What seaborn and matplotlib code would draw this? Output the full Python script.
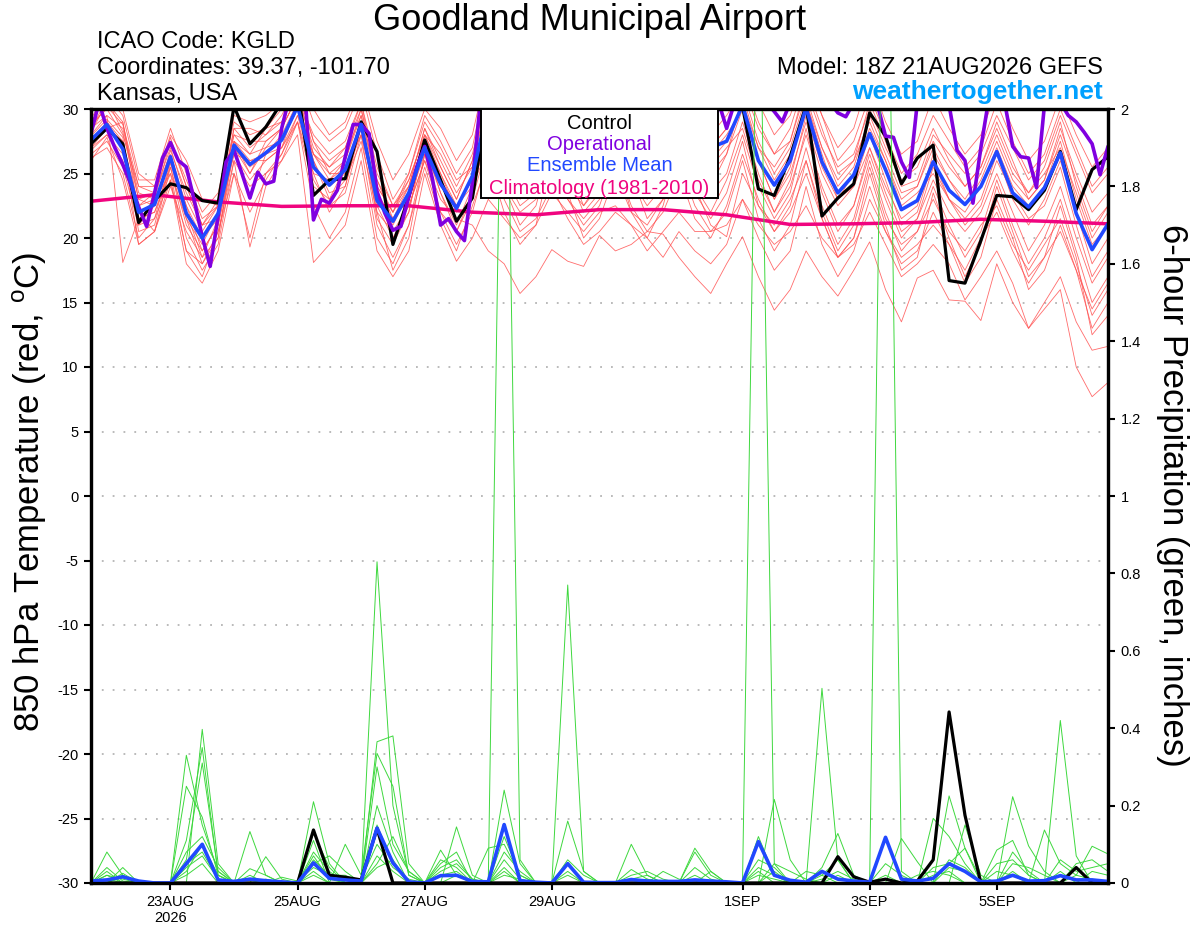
import numpy as np
import pandas as pd
import matplotlib
matplotlib.use("Agg")
import matplotlib.pyplot as plt
import matplotlib.patches as mpatches
import seaborn as sns

sns.set_style("ticks")
plt.rcParams["font.family"] = ["Liberation Sans", "DejaVu Sans"]
plt.rcParams["axes.unicode_minus"] = False
plt.rcParams["mathtext.fontset"] = "custom"
plt.rcParams["mathtext.rm"] = "Liberation Sans"
for key in ["text.color", "axes.labelcolor", "xtick.color", "ytick.color", "axes.edgecolor"]:
    plt.rcParams[key] = "black"

# ---------------- data ----------------
START = "2026-08-21 18:00"
END = "2026-09-06 18:00"

# Ensemble mean 850 hPa temperature (6-hourly)
mean_temp = [27.6,
             28.8, 26.9, 22.0, 22.6, 26.3, 21.9, 20.0, 21.9, 27.2,
             25.7, 26.6, 27.6, 30.2, 25.5, 24.1, 25.3, 28.8, 22.9, 21.3,
             23.5, 27.0, 24.2, 22.3, 24.8, 30.2, 28.0, 26.5, 27.0, 29.0,
             28.5, 27.0, 27.5, 29.0, 28.0, 26.5, 27.5, 29.5, 28.5, 27.0,
             27.5, 30.3, 26.0, 24.1, 26.0, 30.1, 25.9, 23.5, 24.9, 28.1,
             25.3, 22.2, 22.9, 25.9, 23.7, 22.6, 24.0, 26.7, 23.5, 22.4,
             23.9, 26.6, 21.9, 19.1, 21.1]

# Control run temperature (6-hourly)
ctrl_temp = [27.3,
             28.5, 27.3, 21.2, 22.9, 24.2, 23.9, 22.9, 22.7, 30.2,
             27.3, 28.6, 30.5, 31.5, 23.3, 24.5, 24.6, 29.0, 26.7, 19.5,
             23.2, 27.6, 24.5, 21.3, 23.1, 30.8, 31.5, 30.9, 31.8, 32.2,
             31.0, 31.6, 32.4, 31.2, 30.8, 31.9, 32.5, 31.3, 30.6, 31.1,
             30.6, 30.2, 23.8, 23.3, 26.3, 30.3, 21.7, 23.1, 24.2, 29.7,
             27.9, 24.2, 26.2, 27.2, 16.7, 16.5, 19.8, 23.3, 23.2, 22.2,
             23.7, 26.7, 22.2, 25.3, 26.3]

# Operational run temperature (3-hourly)
oper_temp = [28.1, 30.5, 28.5, 27.0, 25.7, 24.2, 22.4, 20.9, 23.5, 26.2,
             27.4, 26.0, 25.5, 22.9, 20.1, 17.8, 21.7, 25.9, 26.8, 25.0,
             23.1, 25.1, 24.2, 24.4, 28.5, 31.0, 31.5, 30.5, 21.4, 23.0,
             22.7, 23.7, 26.3, 28.8, 28.8, 28.1, 23.6, 21.9, 20.6, 20.9,
             23.2, 25.5, 27.1, 24.5, 21.0, 21.5, 20.5, 19.8, 24.3, 30.5,
             31.5, 32.0, 31.0, 31.5, 32.5, 32.0, 31.0, 31.5, 32.0, 33.0,
             32.5, 31.5, 31.0, 32.0, 32.5, 31.5, 31.0, 31.5, 32.0, 31.5,
             31.0, 30.5, 31.5, 32.0, 31.5, 31.0, 30.5, 31.0, 31.5, 30.5,
             28.5, 30.5, 31.0, 31.5, 31.0, 30.5, 29.8, 29.0, 30.5, 31.0,
             31.5, 31.5, 31.0, 30.5, 29.7, 29.4, 30.5, 31.5, 31.5, 30.3,
             27.9, 27.8, 25.9, 24.7, 30.5, 31.5, 32.0, 31.5, 30.3, 26.8,
             26.0, 22.7, 27.0, 30.8, 31.5, 30.5, 27.1, 26.3, 26.2, 23.9,
             30.3, 31.5, 30.5, 29.5, 29.0, 28.2, 27.3, 24.9, 27.1]

# Climatology 1981-2010 (daily)
clim_temp = [22.85, 23.35, 22.8, 22.45, 22.5, 22.5, 22.0, 21.8, 22.2,
             22.2, 21.8, 21.05, 21.1, 21.2, 21.45, 21.3, 21.1]

# Ensemble members temperature (6-hourly)
t_m01 = [27.0, 28.0, 26.0, 21.5, 22.0, 25.5, 21.0, 19.0, 21.0, 26.5, 24.5, 26.0, 27.0,
         29.0, 24.0, 23.0, 24.5, 27.5, 22.0, 20.5, 22.5, 26.0, 23.0, 21.5, 21.0,
         19.0, 18.0, 15.7, 17.0, 19.1, 18.2, 17.8, 20.2, 19.0, 19.5, 20.5, 20.3,
         18.5, 17.0, 15.7, 18.0, 20.1, 17.0, 14.4, 16.0, 19.0, 17.0, 15.5, 17.5,
         19.7, 16.0, 13.5, 16.9, 17.5, 15.2, 15.1, 13.6, 18.0, 15.0, 13.0, 14.5,
         16.0, 10.0, 7.7, 8.8]
t_m02 = [26.2, 27.0, 25.0, 20.0, 21.5, 24.5, 18.0, 16.5, 19.0, 25.0, 20.0, 25.0, 26.0,
         28.0, 18.1, 19.5, 21.0, 26.0, 19.0, 17.0, 19.0, 25.0, 21.0, 18.2, 20.0,
         23.0, 21.5, 20.0, 21.0, 23.5, 22.0, 20.5, 22.0, 22.5, 21.0, 19.0, 20.5,
         22.0, 20.5, 20.5, 21.0, 23.0, 21.0, 19.5, 20.5, 22.5, 20.0, 18.5, 19.5,
         22.0, 19.5, 17.0, 18.0, 19.5, 18.0, 15.2, 17.0, 19.0, 16.5, 13.0, 15.0,
         17.0, 13.5, 11.3, 11.6]
t_m03 = [28.5, 29.5, 28.5, 23.5, 23.0, 27.5, 24.0, 21.0, 22.5, 28.5, 27.0, 28.0, 29.0,
         31.5, 27.5, 26.0, 27.0, 30.0, 25.0, 22.5, 24.0, 28.5, 26.0, 23.5, 25.5,
         31.0, 29.0, 26.5, 27.0, 30.5, 28.5, 26.0, 27.5, 31.0, 29.0, 27.0, 28.0,
         31.5, 29.0, 27.0, 28.5, 32.0, 28.5, 26.5, 27.5, 31.5, 28.0, 25.5, 26.5,
         30.0, 27.0, 24.5, 25.5, 28.5, 26.0, 24.0, 25.5, 29.0, 26.0, 23.0, 24.5,
         28.0, 24.5, 21.0, 22.5]
t_m04 = [27.8, 28.5, 27.5, 21.0, 21.5, 26.0, 22.0, 18.5, 20.0, 27.5, 26.0, 26.5, 28.0,
         30.5, 26.0, 23.5, 24.0, 29.0, 21.5, 19.5, 22.0, 27.5, 23.5, 21.0, 24.0,
         28.0, 24.0, 21.0, 22.5, 27.0, 23.0, 21.5, 23.0, 26.5, 22.0, 20.0, 22.5,
         27.0, 23.5, 21.5, 23.5, 27.5, 22.5, 20.5, 22.0, 25.0, 21.5, 18.5, 20.0,
         24.0, 20.5, 18.0, 19.0, 22.0, 19.5, 16.5, 18.5, 23.0, 20.0, 16.0, 17.5,
         21.0, 17.5, 13.0, 15.0]
t_m05 = [28.2, 30.5, 29.0, 23.0, 23.5, 27.0, 23.0, 20.5, 22.5, 27.0, 25.0, 27.5, 28.5,
         31.0, 27.0, 25.5, 26.5, 29.5, 24.0, 22.0, 24.5, 28.0, 25.5, 23.0, 26.0,
         32.0, 30.5, 27.0, 28.0, 32.5, 31.0, 28.5, 30.0, 33.0, 31.0, 28.5, 30.5,
         32.0, 30.0, 28.0, 29.5, 31.5, 27.5, 25.0, 27.0, 31.0, 27.0, 24.0, 25.5,
         29.5, 26.5, 23.5, 24.0, 27.0, 24.5, 23.0, 25.0, 28.0, 25.0, 23.5, 25.5,
         29.0, 24.0, 20.5, 22.5]
t_m06 = [26.8, 28.0, 26.5, 22.5, 23.0, 25.0, 21.5, 19.5, 22.0, 26.5, 26.0, 26.0, 27.0,
         29.5, 25.0, 24.5, 25.5, 28.0, 23.5, 21.5, 23.0, 26.5, 24.5, 22.5, 24.5,
         29.0, 27.0, 24.0, 25.0, 28.0, 25.0, 22.0, 23.5, 27.5, 24.5, 22.5, 24.0,
         28.0, 25.5, 23.5, 25.0, 29.0, 25.0, 22.0, 24.0, 28.0, 24.0, 21.0, 22.5,
         27.0, 23.5, 20.5, 21.5, 24.5, 22.0, 20.5, 22.0, 25.0, 22.0, 19.0, 21.0,
         24.0, 20.0, 16.5, 18.5]
t_m07 = [29.0, 31.0, 29.5, 24.5, 24.5, 28.5, 25.0, 22.0, 23.5, 29.0, 28.0, 28.5, 30.0,
         32.5, 29.0, 27.5, 28.5, 31.5, 26.5, 23.0, 25.0, 29.5, 27.5, 25.0, 27.0,
         33.0, 32.0, 29.0, 30.0, 34.0, 32.0, 30.0, 31.5, 34.5, 32.5, 30.5, 32.0,
         34.0, 32.0, 30.5, 31.5, 33.5, 30.5, 28.0, 29.5, 33.0, 29.5, 27.0, 28.5,
         32.5, 29.0, 26.5, 27.5, 31.0, 28.5, 26.5, 28.0, 31.5, 28.5, 26.0, 27.5,
         31.0, 28.0, 25.5, 27.0]
t_m08 = [27.5, 29.0, 27.0, 19.5, 20.5, 25.5, 20.0, 17.5, 19.5, 26.0, 19.3, 24.0, 26.0,
         29.0, 25.0, 22.0, 24.0, 28.5, 22.5, 20.0, 22.5, 26.0, 22.0, 19.5, 22.0,
         26.5, 24.0, 22.0, 23.0, 25.5, 23.0, 21.0, 22.5, 26.0, 22.5, 20.5, 22.0,
         25.0, 21.5, 20.0, 22.5, 26.5, 23.0, 20.5, 22.5, 27.0, 22.5, 19.5, 21.5,
         26.0, 22.0, 19.0, 20.5, 24.0, 21.0, 18.5, 20.5, 24.5, 21.0, 18.0, 20.0,
         23.0, 19.0, 15.0, 17.0]
t_m09 = [28.0, 29.5, 18.1, 21.5, 22.0, 25.0, 19.0, 18.0, 20.5, 26.0, 24.0, 25.0, 26.5,
         29.5, 26.5, 24.5, 26.0, 29.5, 24.5, 22.0, 24.0, 27.5, 25.0, 22.0, 25.0,
         30.5, 28.5, 25.5, 26.5, 30.0, 27.0, 24.0, 25.0, 29.5, 26.0, 23.0, 25.0,
         30.0, 27.0, 25.0, 26.5, 30.0, 26.0, 23.0, 25.0, 29.0, 25.0, 22.5, 24.0,
         28.0, 24.5, 21.0, 22.0, 26.0, 23.0, 21.5, 23.0, 26.5, 23.0, 21.0, 23.0,
         26.0, 22.0, 18.0, 20.0]
t_m10 = [28.8, 30.0, 28.0, 24.0, 24.0, 27.5, 24.5, 21.5, 22.5, 28.0, 27.5, 27.5, 28.5,
         31.0, 28.0, 26.5, 27.5, 30.5, 25.5, 22.5, 24.5, 28.0, 26.5, 24.0, 26.5,
         31.5, 29.5, 26.0, 27.0, 31.0, 29.5, 27.5, 29.0, 32.0, 30.0, 27.5, 29.5,
         31.0, 28.5, 26.0, 27.5, 30.5, 27.0, 24.5, 26.5, 30.5, 26.5, 23.0, 25.0,
         28.5, 26.0, 22.5, 23.5, 25.0, 23.0, 22.0, 24.0, 27.0, 24.0, 22.5, 24.0,
         27.5, 23.0, 19.5, 21.0]
t_m11 = [26.5, 27.5, 25.5, 21.0, 22.5, 26.0, 22.5, 20.0, 21.5, 27.5, 26.5, 27.0, 27.5,
         30.0, 26.5, 25.0, 25.0, 28.0, 23.0, 21.0, 23.5, 27.0, 23.5, 20.5, 23.0,
         27.5, 25.0, 22.5, 23.5, 27.0, 24.0, 22.5, 24.0, 28.0, 25.5, 23.5, 25.0,
         27.0, 24.0, 21.0, 20.1, 25.0, 22.5, 21.0, 23.0, 26.0, 22.0, 19.0, 21.0,
         25.5, 21.5, 19.5, 20.5, 23.0, 20.5, 19.0, 21.0, 22.5, 19.5, 17.5, 19.5,
         21.5, 18.0, 14.0, 16.0]
t_m12 = [27.2, 29.0, 27.5, 22.5, 23.5, 26.5, 22.5, 19.0, 21.0, 27.0, 25.5, 26.5, 27.5,
         30.5, 25.5, 24.0, 25.0, 29.0, 22.0, 17.5, 20.0, 26.5, 24.0, 22.5, 24.5,
         30.0, 28.0, 25.0, 26.0, 29.5, 28.0, 25.0, 27.0, 30.5, 28.0, 26.0, 27.5,
         29.5, 27.5, 25.5, 27.0, 28.5, 24.5, 22.0, 24.5, 29.5, 25.5, 23.0, 24.0,
         27.0, 24.0, 21.5, 22.5, 26.5, 24.5, 22.5, 24.5, 27.5, 24.5, 23.0, 24.5,
         28.5, 25.0, 22.0, 23.5]
t_m13 = [28.4, 30.8, 28.2, 23.0, 22.5, 26.8, 23.5, 21.0, 21.5, 28.5, 28.5, 28.0, 29.5,
         32.0, 27.5, 25.0, 26.0, 30.0, 24.0, 22.0, 25.0, 29.0, 27.0, 24.5, 25.5,
         31.5, 28.0, 24.5, 25.5, 29.0, 26.0, 23.5, 25.5, 30.0, 27.5, 24.5, 26.0,
         29.0, 26.0, 24.0, 26.5, 31.0, 27.0, 25.5, 27.5, 32.0, 28.5, 25.0, 26.0,
         30.5, 27.5, 24.0, 24.5, 28.0, 26.5, 25.0, 26.5, 29.5, 27.0, 24.5, 26.0,
         29.5, 26.5, 23.5, 25.0]
t_m14 = [27.9, 29.2, 27.8, 20.5, 21.0, 25.8, 21.5, 18.0, 20.0, 27.0, 23.0, 26.5, 27.0,
         30.5, 24.5, 22.5, 23.5, 28.0, 21.0, 18.5, 21.0, 26.5, 22.0, 20.5, 23.5,
         28.5, 26.0, 23.0, 24.0, 28.5, 25.5, 22.5, 24.5, 29.0, 25.0, 21.5, 23.0,
         28.5, 24.0, 22.0, 24.5, 28.0, 24.0, 21.5, 23.5, 28.5, 23.5, 20.5, 22.5,
         26.5, 23.0, 20.0, 21.5, 25.5, 23.0, 21.0, 22.5, 26.0, 23.5, 21.5, 22.5,
         25.5, 21.0, 17.0, 19.0]
t_m15 = [27.0, 28.5, 29.0, 22.0, 20.5, 24.0, 20.5, 18.5, 21.5, 27.5, 25.0, 27.0, 28.5,
         31.0, 26.0, 23.0, 25.5, 29.0, 23.5, 20.0, 22.0, 28.0, 25.0, 22.5, 24.0,
         27.0, 23.0, 20.5, 21.5, 24.0, 21.5, 19.5, 20.5, 22.0, 21.0, 20.0, 18.5,
         20.5, 19.0, 18.0, 19.5, 23.0, 20.0, 17.5, 19.0, 24.0, 19.5, 17.0, 19.0,
         23.0, 20.5, 18.5, 19.5, 21.0, 19.5, 17.5, 20.0, 22.0, 19.0, 16.5, 18.5,
         20.5, 17.5, 14.5, 16.5]
t_m16 = [29.2, 31.5, 30.0, 25.0, 24.0, 28.0, 26.0, 23.0, 22.5, 29.5, 29.0, 29.5, 30.5,
         33.0, 30.0, 28.0, 29.0, 32.0, 27.5, 24.5, 26.5, 30.0, 28.5, 26.0, 28.0,
         33.5, 31.0, 28.0, 29.5, 33.0, 31.0, 28.5, 30.5, 33.5, 31.0, 28.5, 30.0,
         32.5, 30.0, 27.0, 28.5, 32.5, 29.0, 26.5, 28.5, 32.5, 29.5, 26.0, 27.5,
         31.0, 28.0, 25.0, 26.5, 29.5, 27.5, 25.5, 27.0, 30.5, 27.5, 25.0, 26.5,
         30.0, 27.0, 24.0, 25.5]
t_m17 = [26.0, 27.8, 24.5, 19.5, 20.5, 24.5, 19.0, 17.0, 20.5, 25.0, 22.0, 24.5, 26.5,
         29.0, 22.5, 20.0, 22.0, 27.0, 20.0, 18.0, 21.0, 25.5, 21.5, 19.0, 22.5,
         26.0, 22.0, 19.5, 21.0, 26.5, 23.5, 20.0, 21.5, 25.0, 22.0, 21.0, 23.0,
         26.0, 22.5, 20.5, 22.0, 26.0, 21.5, 19.0, 21.0, 26.0, 21.5, 18.5, 20.0,
         25.0, 21.0, 17.5, 18.5, 23.5, 20.0, 17.0, 19.5, 24.0, 20.5, 17.0, 18.5,
         22.5, 18.5, 12.5, 14.0]
t_m18 = [28.6, 30.2, 28.8, 24.0, 23.5, 27.8, 24.0, 21.0, 23.0, 28.0, 26.5, 28.5, 29.0,
         31.5, 26.5, 25.5, 27.0, 30.5, 24.5, 21.5, 24.0, 28.5, 25.5, 23.0, 26.0,
         32.5, 30.0, 27.5, 28.5, 31.5, 29.0, 26.5, 28.0, 31.0, 28.5, 26.5, 28.5,
         30.5, 28.0, 26.5, 28.0, 30.0, 26.0, 23.0, 25.5, 30.5, 27.0, 24.5, 26.0,
         29.0, 26.0, 23.0, 24.0, 27.5, 25.5, 24.0, 25.5, 28.5, 25.5, 23.5, 25.0,
         27.0, 23.5, 20.0, 22.0]
temp_members = [t_m01, t_m02, t_m03, t_m04, t_m05, t_m06, t_m07, t_m08, t_m09,
                t_m10, t_m11, t_m12, t_m13, t_m14, t_m15, t_m16, t_m17, t_m18]

# 6-hour precipitation (inches), control and ensemble mean
ctrl_prcp = [0, 0, 0, 0, 0, 0, 0, 0, 0, 0, 0, 0, 0, 0, 0.137, 0.02, 0.015, 0.008, 0.141, 0,
             0, 0, 0, 0, 0, 0, 0, 0, 0, 0, 0, 0, 0, 0, 0, 0, 0, 0, 0, 0,
             0, 0, 0, 0, 0, 0, 0, 0.068, 0.016, 0.002, 0.01, 0, 0.005, 0.06, 0.442, 0.175, 0, 0, 0, 0,
             0, 0, 0.04, 0, 0]
mean_prcp = [0.005, 0.008, 0.016, 0.005, 0.0, 0.0, 0.05, 0.1, 0.008, 0.004,
             0.01, 0.006, 0.003, 0.0, 0.052, 0.012, 0.008, 0.005, 0.142, 0.052,
             0.003, 0.0, 0.019, 0.02, 0.004, 0.003, 0.151, 0.006, 0.002, 0.0,
             0.05, 0.002, 0.001, 0.001, 0.009, 0.005, 0.004, 0.004, 0.008, 0.005,
             0.003, 0.0, 0.107, 0.02, 0.007, 0.002, 0.03, 0.01, 0.005, 0.002,
             0.118, 0.01, 0.005, 0.012, 0.05, 0.03, 0.003, 0.005, 0.02, 0.005,
             0.006, 0.019, 0.008, 0.008, 0.004]

# Ensemble member precipitation: {6-hour step: inches}, other steps are zero
p_m01 = {1: 0.08, 2: 0.02, 6: 0.33, 7: 0.15, 8: 0.03, 14: 0.21, 15: 0.05, 18: 0.83, 19: 0.2,
         20: 0.02, 26: 0.24, 27: 0.05, 30: 0.05, 42: 0.12, 43: 0.02, 54: 0.225, 55: 0.09, 58: 0.02}
p_m02 = {2: 0.04, 7: 0.397, 8: 0.05, 11: 0.068, 12: 0.01, 14: 0.13, 15: 0.04, 18: 0.365,
         19: 0.38, 20: 0.05, 23: 0.145, 24: 0.02, 26: 2.7, 27: 0.06, 34: 0.1, 35: 0.02,
         46: 0.503, 47: 0.06, 61: 0.42, 62: 0.07}
p_m03 = {1: 0.03, 6: 0.25, 7: 0.17, 8: 0.02, 10: 0.133, 11: 0.02, 14: 0.11, 16: 0.1, 17: 0.02,
         18: 0.335, 19: 0.25, 20: 0.02, 22: 0.085, 23: 0.02, 30: 0.77, 31: 0.03, 42: 2.6,
         43: 0.05, 53: 0.167, 54: 0.12, 55: 0.05, 58: 0.223, 59: 0.096, 60: 0.03}
p_m04 = {2: 0.025, 6: 0.11, 7: 0.35, 8: 0.02, 14: 0.08, 15: 0.03, 18: 0.3, 19: 0.1, 20: 0.03,
         22: 0.05, 23: 0.08, 25: 0.09, 26: 0.1, 27: 0.02, 30: 0.16, 31: 0.03, 38: 0.09,
         39: 0.03, 43: 0.216, 44: 0.06, 50: 3.0, 51: 0.03, 57: 0.085, 58: 0.11, 59: 0.02}
p_m05 = {1: 0.02, 2: 0.01, 6: 0.06, 7: 0.31, 8: 0.03, 10: 0.037, 11: 0.02, 14: 0.06, 15: 0.02,
         18: 0.2, 19: 0.08, 26: 0.06, 27: 0.01, 34: 0.035, 35: 0.01, 38: 0.08, 39: 0.02,
         42: 0.06, 43: 0.04, 46: 0.04, 47: 0.128, 48: 0.02, 51: 0.115, 52: 0.055, 55: 0.15,
         56: 0.02, 60: 0.137, 61: 0.05, 62: 0.02, 63: 0.095, 64: 0.075}
p_m06 = {1: 0.01, 6: 0.04, 7: 0.07, 8: 0.01, 12: 0.015, 13: 0.005, 14: 0.04, 15: 0.02,
         16: 0.02, 18: 0.15, 19: 0.05, 22: 0.03, 23: 0.05, 24: 0.01, 26: 0.04, 30: 0.06,
         31: 0.02, 36: 0.03, 37: 0.01, 39: 0.03, 42: 0.04, 43: 0.02, 45: 0.03, 46: 0.02,
         47: 0.06, 53: 0.04, 54: 0.05, 55: 0.09, 56: 0.01, 58: 0.08, 59: 0.03, 61: 0.06,
         62: 0.03, 63: 0.04, 64: 0.05}
p_m07 = {2: 0.015, 6: 0.02, 7: 0.05, 14: 0.02, 17: 0.01, 18: 0.1, 19: 0.04, 20: 0.01,
         22: 0.02, 23: 0.03, 26: 0.02, 27: 0.01, 34: 0.02, 35: 0.03, 36: 0.01, 38: 0.02,
         42: 0.02, 43: 0.01, 46: 0.01, 47: 0.03, 48: 0.01, 52: 0.02, 53: 0.03, 54: 0.02,
         57: 0.03, 58: 0.02, 62: 0.02, 63: 0.01}
p_m08 = {1: 0.04, 2: 0.005, 6: 0.08, 7: 0.12, 8: 0.04, 10: 0.02, 14: 0.05, 15: 0.07,
         16: 0.03, 18: 0.05, 19: 0.12, 20: 0.03, 22: 0.06, 23: 0.04, 26: 0.08, 27: 0.03,
         30: 0.03, 34: 0.01, 35: 0.02, 43: 0.05, 44: 0.03, 45: 0.01, 50: 0.05, 51: 0.02,
         54: 0.04, 55: 0.03, 58: 0.05, 59: 0.04, 60: 0.02, 62: 0.05, 63: 0.06, 64: 0.03}
p_m09 = {1: 0.02, 6: 0.03, 7: 0.1, 8: 0.02, 14: 0.03, 18: 0.07, 19: 0.03, 23: 0.02,
         26: 0.03, 30: 0.02, 42: 0.03, 47: 0.02, 54: 0.06, 55: 0.04, 58: 0.03, 61: 0.03}
p_m10 = {2: 0.02, 6: 0.05, 7: 0.08, 8: 0.01, 11: 0.01, 14: 0.07, 15: 0.01, 18: 0.04,
         19: 0.06, 22: 0.04, 23: 0.06, 24: 0.01, 26: 0.12, 27: 0.02, 35: 0.01, 38: 0.04,
         39: 0.01, 43: 0.03, 46: 0.02, 50: 0.02, 53: 0.02, 54: 0.03, 57: 0.05, 58: 0.06,
         59: 0.02, 63: 0.03, 64: 0.02}
prcp_members = [p_m01, p_m02, p_m03, p_m04, p_m05, p_m06, p_m07, p_m08, p_m09, p_m10]

temp_ticks = list(range(-30, 31, 5))
prcp_ticks = [0, 0.2, 0.4, 0.6, 0.8, 1.0, 1.2, 1.4, 1.6, 1.8, 2.0]
prcp_tick_labels = ["0", "0.2", "0.4", "0.6", "0.8", "1", "1.2", "1.4", "1.6", "1.8", "2"]
xtick_dates = ["2026-08-23", "2026-08-25", "2026-08-27", "2026-08-29",
               "2026-09-01", "2026-09-03", "2026-09-05"]
xtick_labels = ["23AUG\n2026", "25AUG", "27AUG", "29AUG", "1SEP", "3SEP", "5SEP"]

# ---------------- build frames ----------------
n6 = len(mean_temp)
t6 = pd.date_range(START, periods=n6, freq="6h")
t3 = pd.date_range(START, periods=len(oper_temp), freq="3h")
tday = pd.date_range(START, periods=len(clim_temp), freq="24h")
for m in temp_members + [ctrl_temp, ctrl_prcp, mean_prcp]:
    assert len(m) == n6, len(m)

df_tm = pd.concat([pd.DataFrame({"time": t6, "temp": vals, "member": k})
                   for k, vals in enumerate(temp_members)], ignore_index=True)
prows = []
for k, d in enumerate(prcp_members):
    vals = np.zeros(n6)
    for idx, v in d.items():
        vals[idx] = v
    prows.append(pd.DataFrame({"time": t6, "prcp": vals, "member": k}))
df_pm = pd.concat(prows, ignore_index=True)

# ---------------- colours ----------------
RED = "#ff5252"
GREEN = "#3ed83e"
PURPLE = "#8000e0"
BLUE = "#2148ff"
PINK = "#f0047f"
SITE = "#00a0ff"

# ---------------- figure ----------------
fig = plt.figure(figsize=(12, 9.27), dpi=100)
ax = fig.add_axes([91 / 1200, 44 / 927, 1017 / 1200, 774 / 927])
ax2 = ax.twinx()

sns.lineplot(data=df_tm, x="time", y="temp", units="member", estimator=None,
             color=RED, linewidth=0.6, alpha=0.85, ax=ax, legend=False)
sns.lineplot(x=tday, y=clim_temp, color=PINK, linewidth=2.5, ax=ax)
sns.lineplot(x=t6, y=ctrl_temp, color="black", linewidth=2.3, ax=ax)
sns.lineplot(x=t3, y=oper_temp, color=PURPLE, linewidth=2.6, ax=ax)
sns.lineplot(x=t6, y=mean_temp, color=BLUE, linewidth=2.6, ax=ax)

sns.lineplot(data=df_pm, x="time", y="prcp", units="member", estimator=None,
             color=GREEN, linewidth=0.7, ax=ax2, legend=False)
sns.lineplot(x=t6, y=ctrl_prcp, color="black", linewidth=2.3, ax=ax2)
sns.lineplot(x=t6, y=mean_prcp, color=BLUE, linewidth=2.6, ax=ax2)

ax.set_xlim(pd.Timestamp(START), pd.Timestamp(END))
ax.set_ylim(-30, 30)
ax2.set_ylim(0, 2)
ax.set_yticks(temp_ticks)
ax.set_yticklabels([str(v) for v in temp_ticks])
ax2.set_yticks(prcp_ticks)
ax2.set_yticklabels(prcp_tick_labels)
ax.set_xticks(pd.to_datetime(xtick_dates))
ax.set_xticklabels(xtick_labels, linespacing=1.1)
ax.set_xlabel("")
ax.set_ylabel("")
ax2.set_ylabel("")

ax.grid(axis="y", color="#b4b4b4", linestyle=(0, (1, 5)), linewidth=1.3)
ax.grid(axis="x", visible=False)
for a in (ax, ax2):
    a.tick_params(axis="both", direction="out", length=5, width=1.5,
                  labelsize=10.5, pad=4, colors="black")
    for s in a.spines.values():
        s.set_linewidth(2.3)
        s.set_color("black")
        s.set_visible(True)

# legend box
ax2.add_patch(mpatches.Rectangle((0.3835, 0.885), 0.2330, 0.115, transform=ax2.transAxes,
                                 facecolor="white", edgecolor="black", linewidth=1.4,
                                 zorder=20, clip_on=False))
for txt, col, yy in [("Control", "black", 0.9815), ("Operational", PURPLE, 0.9545),
                     ("Ensemble Mean", BLUE, 0.927), ("Climatology (1981-2010)", PINK, 0.8975)]:
    ax2.text(0.5, yy, txt, color=col, fontsize=14.5, ha="center", va="center",
             transform=ax2.transAxes, zorder=21)

# axis titles
fig.text(30 / 1200, 1 - 492 / 927, "850 hPa Temperature (red, $^{\\rm o}$C)",
         rotation=90, fontsize=25, ha="center", va="center", color="black")
fig.text(1172 / 1200, 1 - 495 / 927, "6-hour Precipitation (green, inches)",
         rotation=270, fontsize=25, ha="center", va="center", color="black")

# header
fig.text(590 / 1200, 1 - 29.5 / 927, "Goodland Municipal Airport", fontsize=26,
         ha="center", va="baseline", color="black")
fig.text(97 / 1200, 1 - 48 / 927, "ICAO Code: KGLD", fontsize=17, ha="left",
         va="baseline", color="black")
fig.text(97 / 1200, 1 - 74 / 927, "Coordinates: 39.37, -101.70", fontsize=17,
         ha="left", va="baseline", color="black")
fig.text(97 / 1200, 1 - 100 / 927, "Kansas, USA", fontsize=17, ha="left",
         va="baseline", color="black")
fig.text(1103 / 1200, 1 - 74 / 927, "Model: 18Z 21AUG2026 GEFS", fontsize=17,
         ha="right", va="baseline", color="black")
fig.text(1103 / 1200, 1 - 99 / 927, "weathertogether.net", fontsize=19, fontweight="bold",
         color=SITE, ha="right", va="baseline")

fig.savefig("out.png", dpi=100)
